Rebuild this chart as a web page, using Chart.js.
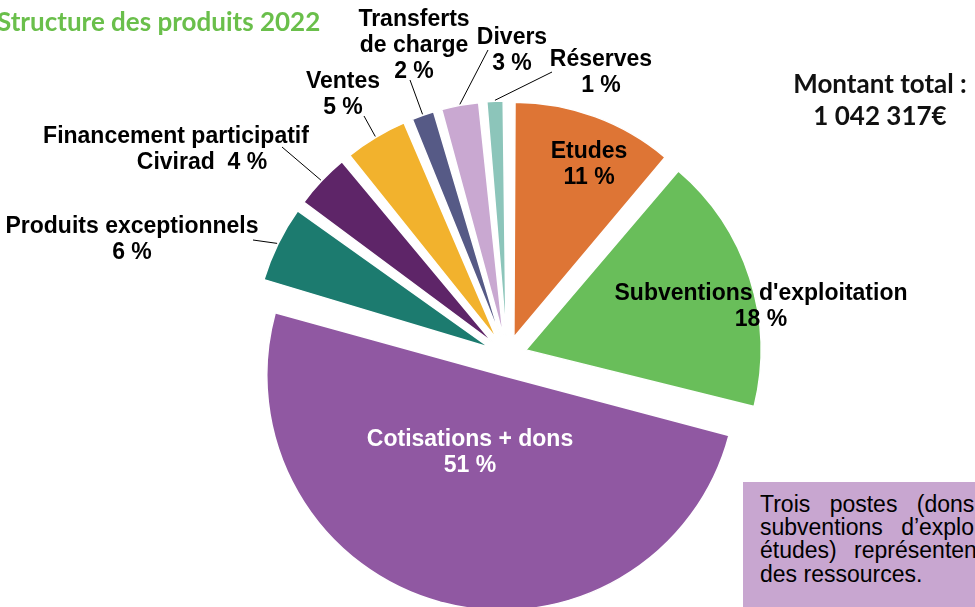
<!DOCTYPE html>
<html>
<head>
<meta charset="utf-8">
<script src="https://cdn.jsdelivr.net/npm/chart.js@4.4.1/dist/chart.umd.min.js"></script>
<style>
    body { margin: 0; width: 975px; height: 607px; overflow: hidden; background: #fff; position: relative; }
    #wrap { position: absolute; left: 0; top: 0; width: 975px; height: 607px; }
    .title { position: absolute; left: -3px; top: 8px; font: bold 26px Lato, sans-serif; line-height: 26px; color: #6abf4b; white-space: nowrap; }
    .total { position: absolute; left: 780px; top: 67px; width: 200px; text-align: center; font: bold 26px Lato, sans-serif; color: #111; line-height: 32px; }
    .note { position: absolute; left: 743px; top: 482px; width: 300px; height: 140px; background: #c8a6d0; }
    .note div { position: absolute; left: 17px; font: 23px "Liberation Sans", Arial, sans-serif; line-height: 24px; color: #000; white-space: nowrap; }
</style>
</head>
<body>
<div id="wrap"><canvas id="PieChart"></canvas></div>
<div class="title">Structure des produits 2022</div>
<div class="total">Montant total :<br>1 042 317€</div>
<div class="note">
    <div style="top:10px;word-spacing:13px">Trois postes (dons,</div>
    <div style="top:33px;word-spacing:12px">subventions d’exploitation,</div>
    <div style="top:56px;word-spacing:11px">études) représentent 80 %</div>
    <div style="top:80px">des ressources.</div>
</div>
<script>
const categories = ['Etudes', "Subventions d'exploitation", 'Cotisations + dons', 'Produits exceptionnels',
    'Financement participatif Civirad', 'Ventes', 'Transferts de charge', 'Divers', 'Réserves'];
const shares = [11.2, 17.7, 50.6, 5.5, 4.1, 4.6, 1.9, 2.9, 1.5];
const percentLabels = ['11 %', '18 %', '51 %', '6 %', '4 %', '5 %', '2 %', '3 %', '1 %'];
const colors = ['#de7535', '#69be5a', '#9058a2', '#1c7b6f', '#5e2568', '#f2b22d', '#565a86', '#c9a8d1', '#8cc5ba'];

// where each label sits, and where its leader line starts (if any)
const labelLayout = [
    {lines: ['Etudes'], x: 589, y: 152},
    {lines: ["Subventions d'exploitation"], x: 761, y: 294},
    {lines: ['Cotisations + dons'], x: 470, y: 440, color: '#fff'},
    {lines: ['Produits exceptionnels'], x: 132, y: 227, lead: [253, 240]},
    {lines: ['Financement participatif', 'Civirad '], x: 176, y: 137, lead: [282, 147], inline: true},
    {lines: ['Ventes'], x: 343, y: 82, lead: [364, 116]},
    {lines: ['Transferts', 'de charge'], x: 414, y: 20, lead: [410, 80]},
    {lines: ['Divers'], x: 512, y: 38, lead: [488, 50]},
    {lines: ['Réserves'], x: 601, y: 60, lead: [552, 72]}
];

const OFFSET = 80;
const RADIUS = 235;

const labelPlugin = {
    id: 'labels',
    beforeDatasetsDraw(chart) {
        // keep every slice at the same visual radius despite the explode offset
        chart.getDatasetMeta(0).data.forEach(arc => {
            const c = arc.endAngle - arc.startAngle;
            const fix = 1 - Math.sin(Math.min(Math.PI, c));
            arc.outerRadius = RADIUS - (OFFSET / 4) * fix;
        });
    },
    afterDatasetsDraw(chart) {
        const ctx = chart.ctx;
        const arcs = chart.getDatasetMeta(0).data;
        ctx.save();
        ctx.font = 'bold 23px "Liberation Sans", Arial, sans-serif';
        ctx.textAlign = 'center';
        ctx.textBaseline = 'middle';
        labelLayout.forEach((l, i) => {
            ctx.fillStyle = l.color || '#000';
            const lines = l.lines.slice();
            if (l.inline) {
                lines[lines.length - 1] += ' ' + percentLabels[i];
            } else {
                lines.push(percentLabels[i]);
            }
            lines.forEach((t, k) => {
                ctx.fillText(t, l.x + (l.inline && k === 1 ? 26 : 0), l.y + k * 26);
            });
            if (l.lead) {
                const a = arcs[i];
                const mid = (a.startAngle + a.endAngle) / 2;
                const cx = a.x + Math.cos(mid) * OFFSET / 4;
                const cy = a.y + Math.sin(mid) * OFFSET / 4;
                const r = RADIUS + 1;
                ctx.strokeStyle = '#000';
                ctx.lineWidth = 1;
                ctx.beginPath();
                ctx.moveTo(l.lead[0], l.lead[1]);
                ctx.lineTo(cx + Math.cos(mid) * r, cy + Math.sin(mid) * r);
                ctx.stroke();
            }
        });
        ctx.restore();
    }
};

new Chart(document.getElementById('PieChart'), {
    type: 'pie',
    data: {
        labels: categories,
        datasets: [{
            data: shares,
            backgroundColor: colors,
            borderColor: '#fff',
            borderWidth: 1.5,
            offset: OFFSET,
            clip: false
        }]
    },
    options: {
        responsive: true,
        maintainAspectRatio: false,
        animation: false,
        radius: RADIUS,
        layout: {padding: {left: 39, top: 105, right: 0, bottom: 0}},
        plugins: {
            legend: {display: false},
            tooltip: {enabled: false}
        }
    },
    plugins: [labelPlugin]
});
</script>
</body>
</html>
